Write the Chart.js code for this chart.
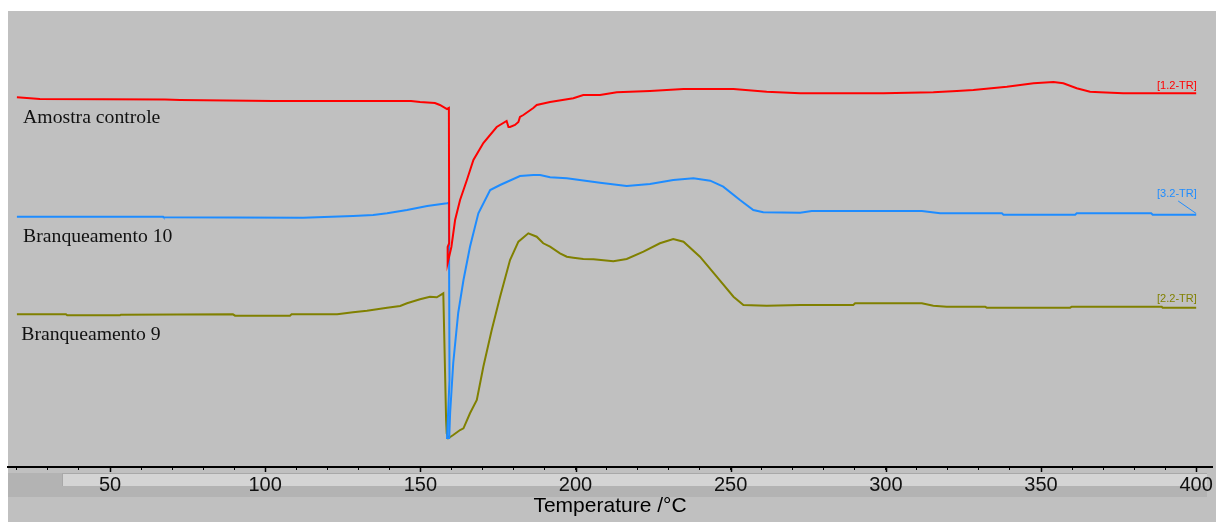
<!DOCTYPE html>
<html>
<head>
<meta charset="utf-8">
<script src="https://cdn.jsdelivr.net/npm/chart.js@4"></script>
<style>
  html, body { margin: 0; padding: 0; background: #fff; }
  #wrap { width: 1216px; height: 522px; }
</style>
</head>
<body>
<div id="wrap"><canvas id="dscChart" width="1216" height="522"></canvas></div>
<script>
// --- Data (temperature in °C, heat flow in arbitrary units) ---
const tickLabels = [50, 100, 150, 200, 250, 300, 350, 400];

// Amostra controle [1.2-TR]
const tempControle = [20.0, 27.4, 67.7, 72.6, 102.5, 147.0, 149.9, 154.7, 156.3, 158.6, 159.2, 159.3, 158.8, 158.8, 160.0, 161.2, 162.8, 165.0, 167.1, 170.3, 174.6, 177.8, 178.4, 178.9, 180.5, 181.6, 182.1, 183.2, 186.4, 187.5, 191.8, 199.3, 202.5, 207.9, 213.3, 224.0, 234.8, 250.9, 261.6, 272.4, 299.2, 315.3, 322.9, 328.2, 339.0, 347.6, 354.0, 357.2, 361.5, 365.8, 369.0, 376.5, 400.0];
const valControle  = [36.97, 36.8, 36.75, 36.7, 36.6, 36.6, 36.5, 36.4, 36.2, 35.8, 35.9, 22.4, 22.0, 20.4, 22.0, 24.7, 26.7, 28.7, 30.7, 32.4, 34.0, 34.6, 34.0, 34.0, 34.2, 34.5, 35.0, 35.2, 35.9, 36.2, 36.5, 36.87, 37.2, 37.2, 37.47, 37.6, 37.8, 37.8, 37.53, 37.37, 37.37, 37.47, 37.6, 37.7, 38.03, 38.37, 38.5, 38.37, 37.87, 37.53, 37.47, 37.37, 37.37];

// Branqueamento 10 [3.2-TR]
const tempB10 = [20.0, 67.1, 67.3, 112.2, 128.3, 134.8, 139.3, 145.7, 152.2, 158.6, 159.2, 159.4, 158.6, 159.3, 159.6, 160.6, 162.2, 163.9, 166.0, 168.7, 172.5, 175.7, 182.1, 186.4, 188.6, 191.8, 197.2, 207.9, 216.5, 224.0, 231.5, 238.0, 243.4, 247.6, 253.0, 257.3, 260.5, 272.4, 276.1, 311.6, 317.5, 337.4, 337.9, 361.0, 361.5, 385.5, 386.0, 400.0];
const valB10  = [25.03, 25.03, 24.97, 24.93, 25.1, 25.2, 25.37, 25.7, 26.1, 26.37, 26.4, 8.7, 2.9, 2.9, 5.4, 10.4, 15.4, 18.7, 22.03, 25.37, 27.7, 28.2, 29.1, 29.2, 29.2, 28.97, 28.87, 28.43, 28.1, 28.3, 28.7, 28.87, 28.63, 28.03, 26.7, 25.7, 25.47, 25.43, 25.6, 25.6, 25.37, 25.37, 25.23, 25.23, 25.37, 25.37, 25.23, 25.23];

// Branqueamento 9 [2.2-TR]
const tempB9 = [20.0, 35.8, 36.2, 53.2, 53.5, 89.6, 90.3, 108.0, 108.5, 123.2, 128.3, 132.8, 139.3, 143.5, 145.7, 149.9, 153.1, 155.3, 157.4, 157.7, 158.3, 158.5, 159.0, 160.6, 162.8, 163.9, 166.0, 168.2, 170.3, 173.0, 175.7, 178.9, 181.6, 184.8, 187.5, 189.6, 191.8, 195.0, 197.2, 199.3, 202.5, 205.8, 212.2, 216.5, 221.9, 227.2, 231.5, 234.8, 240.1, 245.5, 250.9, 254.1, 261.6, 272.4, 289.5, 290.1, 311.6, 315.3, 319.6, 332.0, 332.5, 359.4, 359.9, 388.9, 389.2, 400.0];
const valB9  = [15.27, 15.27, 15.17, 15.17, 15.23, 15.27, 15.13, 15.13, 15.27, 15.27, 15.47, 15.63, 15.93, 16.1, 16.37, 16.77, 17.03, 16.97, 17.37, 13.2, 4.7, 3.37, 2.87, 3.2, 3.7, 3.87, 5.37, 6.7, 10.03, 13.7, 17.03, 20.7, 22.53, 23.37, 23.03, 22.37, 22.03, 21.37, 21.03, 20.93, 20.8, 20.77, 20.57, 20.8, 21.53, 22.37, 22.8, 22.53, 21.03, 19.03, 17.03, 16.2, 16.13, 16.2, 16.2, 16.37, 16.37, 16.13, 16.03, 16.03, 15.93, 15.93, 16.03, 16.03, 15.93, 15.93];

const seriesNames = ["Amostra controle", "Branqueamento 10", "Branqueamento 9"];
const seriesTags = ["[1.2-TR]", "[3.2-TR]", "[2.2-TR]"];
const seriesColors = ["#ff0000", "#1e8cff", "#808000"];

// --- Helpers ---
function toPoints(temps, vals){
    let n = Math.min(temps.length, vals.length);
    let pts = [];
    for (let i = 0; i < n; i++) pts.push({x: temps[i], y: vals[i]});
    return pts;
}

// background, bottom strip, labels
const dscDecor = {
    id: 'dscDecor',
    beforeDraw(chart){
        const ctx = chart.ctx;
        ctx.save();
        ctx.fillStyle = '#ffffff';
        ctx.fillRect(0, 0, chart.width, chart.height);
        ctx.fillStyle = '#c0c0c0';
        ctx.fillRect(8, 11, chart.width - 8, chart.height - 11);
        // scroll strip under the axis
        ctx.fillStyle = '#b3b3b3';
        ctx.fillRect(8, 473, 1199, 24);
        ctx.fillStyle = '#d4d4d4';
        ctx.fillRect(62, 474, 1145, 12);
        ctx.fillStyle = '#a8a8a8';
        ctx.fillRect(62, 473, 1145, 1);
        ctx.fillRect(62, 473, 1, 13);
        ctx.restore();
    },
    afterDraw(chart){
        const ctx = chart.ctx;
        const xs = chart.scales.x, ys = chart.scales.y;
        ctx.save();
        // longer major ticks
        ctx.strokeStyle = '#000';
        ctx.lineWidth = 1.5;
        tickLabels.forEach(t => {
            let px = Math.round(xs.getPixelForValue(t)) + 0.5;
            ctx.beginPath();
            ctx.moveTo(px, chart.chartArea.bottom);
            ctx.lineTo(px, chart.chartArea.bottom + 5);
            ctx.stroke();
        });
        // sample names on the left
        ctx.fillStyle = '#111';
        ctx.font = '19.7px "Liberation Serif"';
        ctx.textAlign = 'left';
        ctx.textBaseline = 'alphabetic';
        const namePos = [[22.0, 34.4], [22.0, 22.55], [21.4, 12.75]];
        seriesNames.forEach((s, i) => {
            ctx.fillText(s, xs.getPixelForValue(namePos[i][0]), ys.getPixelForValue(namePos[i][1]));
        });
        // curve tags on the right
        ctx.font = '11px "Liberation Sans"';
        ctx.textAlign = 'right';
        const tagPos = [37.8, 27.0, 16.5];
        seriesTags.forEach((s, i) => {
            ctx.fillStyle = seriesColors[i];
            ctx.fillText(s, xs.getPixelForValue(400.2), ys.getPixelForValue(tagPos[i]));
        });
        // leader line to the blue tag
        ctx.strokeStyle = seriesColors[1];
        ctx.lineWidth = 1;
        ctx.beginPath();
        ctx.moveTo(xs.getPixelForValue(394.2), ys.getPixelForValue(26.6));
        ctx.lineTo(xs.getPixelForValue(400), ys.getPixelForValue(25.35));
        ctx.stroke();
        ctx.restore();
    }
};

// --- Chart ---
const ctx = document.getElementById('dscChart').getContext('2d');
new Chart(ctx, {
    type: 'line',
    data: {
        datasets: [
            {label: seriesNames[0], data: toPoints(tempControle, valControle), borderColor: seriesColors[0]},
            {label: seriesNames[1], data: toPoints(tempB10, valB10), borderColor: seriesColors[1]},
            {label: seriesNames[2], data: toPoints(tempB9, valB9), borderColor: seriesColors[2]}
        ]
    },
    options: {
        responsive: false,
        animation: false,
        layout: { padding: {left: 8, top: 11, right: 4, bottom: 0} },
        elements: {
            line: { borderWidth: 2, tension: 0, fill: false },
            point: { radius: 0 }
        },
        plugins: { legend: { display: false }, tooltip: { enabled: false } },
        scales: {
            x: {
                type: 'linear',
                min: 17.13,
                max: 405.1,
                afterFit(scale){ scale.height = 55; },
                border: { display: true, color: '#000', width: 2 },
                grid: { drawOnChartArea: false, drawTicks: true, tickLength: 3, tickColor: '#000', tickWidth: 1 },
                ticks: {
                    stepSize: 10,
                    includeBounds: false,
                    autoSkip: false,
                    maxRotation: 0,
                    padding: 3,
                    color: '#111',
                    font: { family: '"Liberation Sans"', size: 20 },
                    callback: v => tickLabels.includes(v) ? String(v) : ''
                },
                title: {
                    display: true,
                    text: 'Temperature /°C',
                    color: '#000',
                    font: { family: '"Liberation Sans"', size: 21 },
                    padding: {top: 0, bottom: 3}
                }
            },
            y: { display: false, min: 0, max: 45.6 }
        }
    },
    plugins: [dscDecor]
});
</script>
</body>
</html>
